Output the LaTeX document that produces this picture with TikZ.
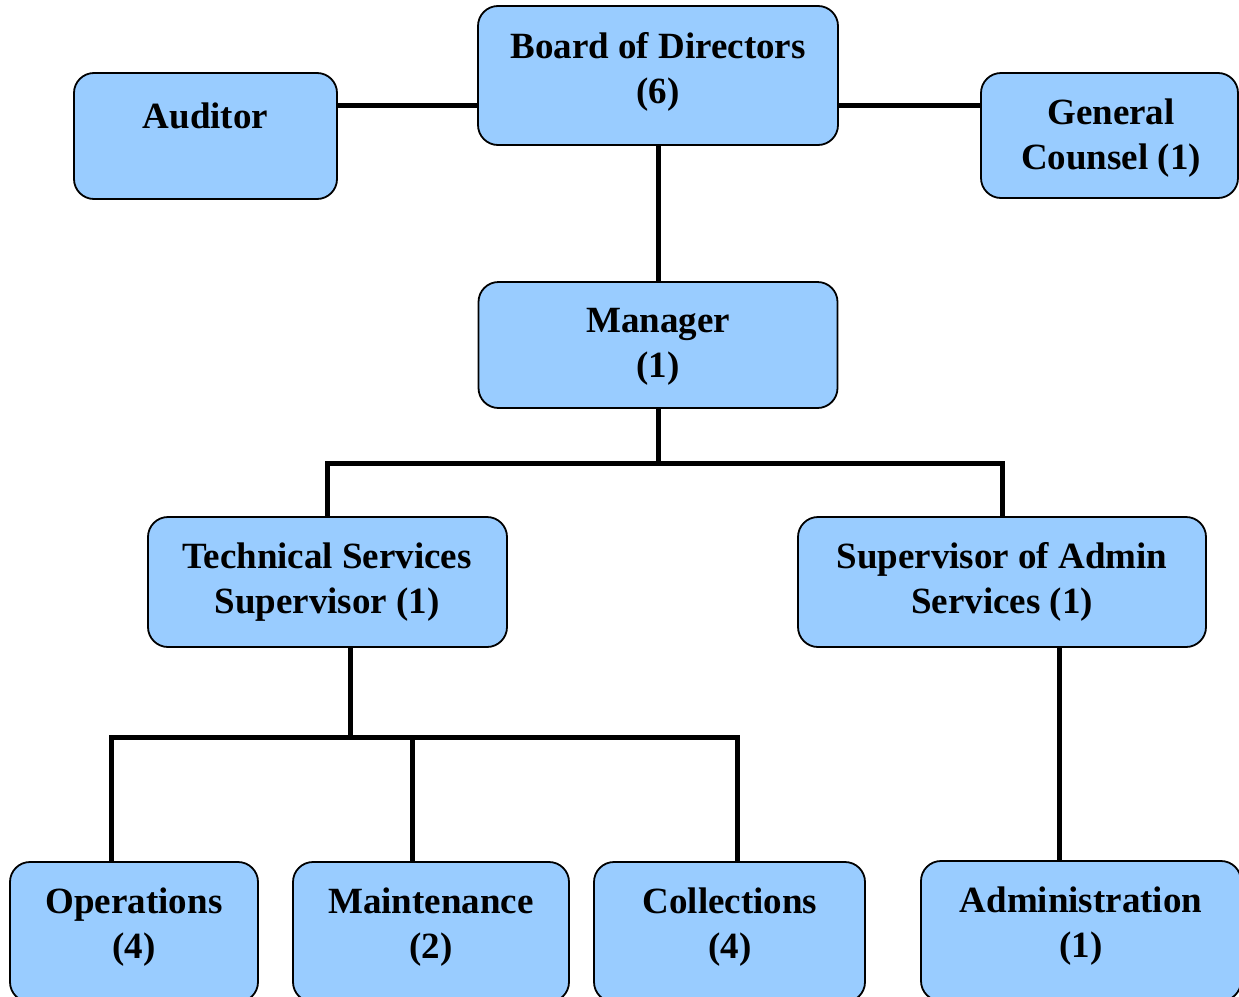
\documentclass[tikz,border=0pt]{standalone}
\usepackage{fontspec}
\setmainfont{Liberation Serif}
\definecolor{boxfill}{HTML}{99CCFF}
\begin{document}
\begin{tikzpicture}[x=1pt,y=-1pt,
  box/.style={draw=black,line width=1.8pt,fill=boxfill,rounded corners=20pt,inner sep=0pt,outer sep=0pt},
  lbl/.style={align=center,font=\fontsize{37}{45}\selectfont\bfseries,inner sep=0pt},
  conn/.style={line width=5pt,line cap=butt,line join=miter}]
\useasboundingbox (0,0) rectangle (1239,996);
\clip (0,0) rectangle (1239,996);
% boxes
\node[box,minimum width=360pt,minimum height=139pt] (board) at (658,75.5) {};
\node[box,minimum width=263pt,minimum height=126pt] (aud) at (205.5,136) {};
\node[box,minimum width=257pt,minimum height=125pt] (gc) at (1109.5,135.5) {};
\node[box,minimum width=359pt,minimum height=126pt] (mgr) at (658,345) {};
\node[box,minimum width=359pt,minimum height=130pt] (tech) at (327.5,582) {};
\node[box,minimum width=408pt,minimum height=130pt] (sup) at (1002,582) {};
\node[box,minimum width=248pt,minimum height=140pt] (ops) at (134,932) {};
\node[box,minimum width=276pt,minimum height=140pt] (mnt) at (431,932) {};
\node[box,minimum width=271pt,minimum height=140pt] (col) at (729.5,932) {};
\node[box,minimum width=320pt,minimum height=140pt] (adm) at (1081,931) {};
% labels
\node[lbl] (tboard) at (658,72) {Board of Directors\\(6)};
\node[lbl] (taud) at (205.5,116) {Auditor};
\node[lbl] (tgc) at (1111,138) {General\\Counsel (1)};
\node[lbl] (tmgr) at (658,347) {Manager\\(1)};
\node[lbl] (ttech) at (327,582) {Technical Services\\Supervisor (1)};
\node[lbl] (tsup) at (1002,582) {Supervisor of Admin\\Services (1)};
\node[lbl] (tops) at (134,927) {Operations\\(4)};
\node[lbl] (tmnt) at (431,927) {Maintenance\\(2)};
\node[lbl] (tcol) at (730,927) {Collections\\(4)};
\node[lbl] (tadm) at (1081,926) {Administration\\(1)};
% connector reference coordinates
\coordinate (ytop) at (0,105);
\coordinate (bus1) at (0,463);
\coordinate (bus2) at (0,737);
\coordinate (opsx) at (111,0);
\coordinate (mntx) at (412,0);
\coordinate (colx) at (737,0);
\coordinate (techx) at (350,0);
\coordinate (admx) at (1059,0);
% connectors
\begin{scope}[conn]
\draw (aud.east |- ytop) -- (board.west |- ytop);
\draw (board.east |- ytop) -- (gc.west |- ytop);
\draw (board.south) -- (mgr.north);
\draw (mgr.south) -- (mgr.south |- bus1);
\draw (tech.north) -- (tech.north |- bus1) -- (sup.north |- bus1) -- (sup.north);
\draw (tech.south -| techx) -- (techx |- bus2);
\draw (ops.north -| opsx) -- (opsx |- bus2) -- (colx |- bus2) -- (col.north -| colx);
\draw (mntx |- bus2) -- (mnt.north -| mntx);
\draw (sup.south -| admx) -- (adm.north -| admx);
\end{scope}
\end{tikzpicture}
\end{document}
